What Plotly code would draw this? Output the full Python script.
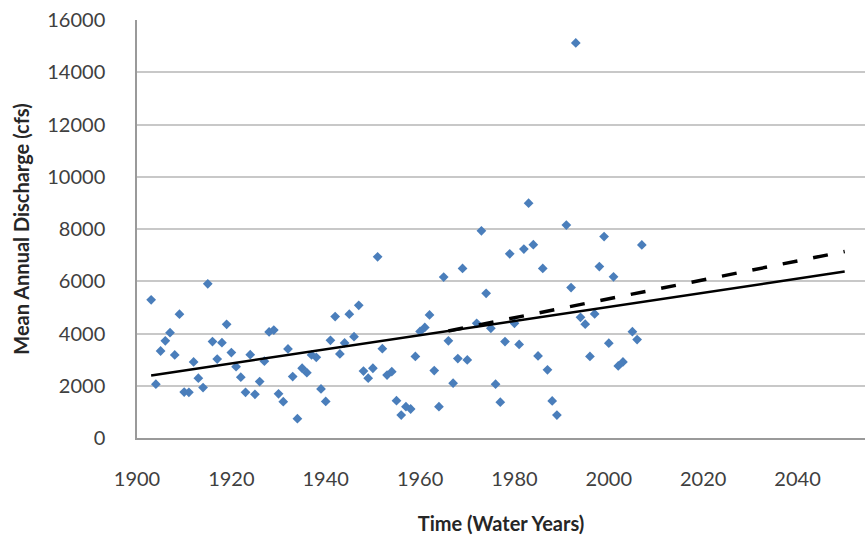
import plotly.graph_objects as go

years = [1903, 1904, 1905, 1906, 1907, 1908, 1909, 1910, 1911, 1912,
         1913, 1914, 1915, 1916, 1917, 1918, 1919, 1920, 1921, 1922,
         1923, 1924, 1925, 1926, 1927, 1928, 1929, 1930, 1931, 1932,
         1933, 1934, 1935, 1936, 1937, 1938, 1939, 1940, 1941, 1942,
         1943, 1944, 1945, 1946, 1947, 1948, 1949, 1950, 1951, 1952,
         1953, 1954, 1955, 1956, 1957, 1958, 1959, 1960, 1961, 1962,
         1963, 1964, 1965, 1966, 1967, 1968, 1969, 1970, 1972, 1973,
         1974, 1975, 1976, 1977, 1978, 1979, 1980, 1981, 1982, 1983,
         1984, 1985, 1986, 1987, 1988, 1989, 1991, 1992, 1993, 1994,
         1995, 1996, 1997, 1998, 1999, 2000, 2001, 2002, 2003, 2005,
         2006, 2007]
discharge = [5290, 2060, 3330, 3720, 4030, 3180, 4740, 1760, 1750, 2910,
             2290, 1930, 5900, 3690, 3020, 3650, 4350, 3270, 2730, 2330,
             1750, 3190, 1670, 2160, 2940, 4060, 4130, 1690, 1390, 3410,
             2350, 740, 2670, 2500, 3180, 3090, 1880, 1400, 3740, 4650,
             3220, 3640, 4740, 3880, 5080, 2560, 2290, 2670, 6935, 3420,
             2410, 2540, 1430, 880, 1200, 1110, 3120, 4080, 4230, 4710,
             2580, 1200, 6160, 3720, 2100, 3040, 6490, 2990, 4390, 7930,
             5540, 4200, 2060, 1370, 3690, 7050, 4390, 3580, 7230, 8990,
             7400, 3140, 6490, 2610, 1420, 880, 8150, 5760, 15120, 4620,
             4355, 3120, 4750, 6560, 7710, 3630, 6170, 2760, 2910, 4070,
             3770, 7390]

trend_all_years = [1903, 2050]
trend_all_values = [2395, 6370]
trend_recent_years = [1966, 2050]
trend_recent_values = [4096, 7140]

x_ticks = [1900, 1920, 1940, 1960, 1980, 2000, 2020, 2040]
y_ticks = [0, 2000, 4000, 6000, 8000, 10000, 12000, 14000, 16000]

fig = go.Figure()
fig.add_trace(go.Scatter(
    x=years, y=discharge, mode="markers",
    marker=dict(symbol="diamond", size=7.5, color="#4A7EBB"),
    showlegend=False))
fig.add_trace(go.Scatter(
    x=trend_all_years, y=trend_all_values, mode="lines",
    line=dict(color="black", width=2.5), showlegend=False))
fig.add_trace(go.Scatter(
    x=trend_recent_years, y=trend_recent_values, mode="lines",
    line=dict(color="black", width=3.5, dash="15px,16px"), showlegend=False))

font_family = "Lato, Open Sans, sans-serif"
fig.update_layout(
    width=865, height=537,
    margin=dict(l=137, r=0, t=20, b=99),
    paper_bgcolor="white", plot_bgcolor="white",
    font=dict(family=font_family, size=20, color="#404040"),
)
fig.update_xaxes(
    range=[1900, 2054.3], tickvals=x_ticks, ticktext=[str(t) for t in x_ticks],
    showgrid=False, zeroline=False, showline=True, linecolor="#9a9a9a", linewidth=1.5,
    ticks="", ticklabelstandoff=22,
    tickfont=dict(size=20, color="#404040"),
    title=dict(text="<b>Time (Water Years)</b>", standoff=28,
               font=dict(size=20, color="#262626")),
)
fig.update_yaxes(
    range=[0, 16000], tickvals=y_ticks, ticktext=[str(t) for t in y_ticks],
    showgrid=True, gridcolor="#c8c8c8", gridwidth=1.5,
    zeroline=False, showline=True, linecolor="#9a9a9a", linewidth=1.5,
    ticks="", ticklabelstandoff=26,
    tickfont=dict(size=20, color="#404040"),
    title=dict(text="<b>Mean Annual Discharge (cfs)</b>", standoff=12,
               font=dict(size=20, color="#262626")),
)

fig.write_html("out.html")
